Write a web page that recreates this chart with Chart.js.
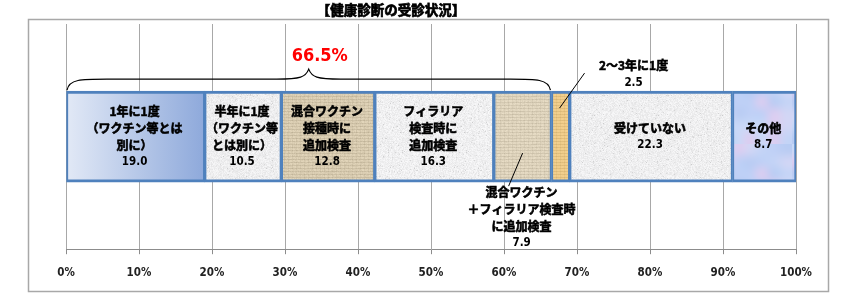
<!DOCTYPE html>
<html>
<head>
<meta charset="utf-8">
<script src="https://cdn.jsdelivr.net/npm/chart.js@4.4.0/dist/chart.umd.min.js"></script>
<style>
  body { margin: 0; background: #fff; }
  #wrap { width: 847px; height: 297px; position: relative; }
</style>
</head>
<body>
<div id="wrap"><canvas id="chart"></canvas></div>
<script>
// === DATA ===
const chartTitle = '【健康診断の受診状況】';
const categories = ['受診状況'];
const seriesNames = [
  '1年に1度（ワクチン等とは別に）',
  '半年に1度（ワクチン等とは別に）',
  '混合ワクチン接種時に追加検査',
  'フィラリア検査時に追加検査',
  '混合ワクチン＋フィラリア検査時に追加検査',
  '2～3年に1度',
  '受けていない',
  'その他'
];
const seriesValues = [19.0, 10.5, 12.8, 16.3, 7.9, 2.5, 22.3, 8.7];
const labelLines = [
  ['1年に1度', '（ワクチン等とは', '別に）'],
  ['半年に1度', '（ワクチン等', 'とは別に）'],
  ['混合ワクチン', '接種時に', '追加検査'],
  ['フィラリア', '検査時に', '追加検査'],
  ['混合ワクチン', '＋フィラリア検査時', 'に追加検査'],
  ['2～3年に1度'],
  ['受けていない'],
  ['その他']
];
const bracketCount = 5;   // 最初の5項目の合計
const tickSuffix = '%';

// === FONTS ===
const JP = '"Noto Sans CJK JP", "Noto Sans", sans-serif';
const NUM = '"Liberation Sans Narrow", "DejaVu Sans Condensed", sans-serif';

// === TEXTURES ===
const cv = document.getElementById('chart');
const mainCtx = cv.getContext('2d');

function makeRng(seed) {
  let s = seed >>> 0;
  return () => { s = (s * 1664525 + 1013904223) >>> 0; return s / 4294967296; };
}

function granite(seed, base) {
  const c = document.createElement('canvas');
  c.width = c.height = 64;
  const g = c.getContext('2d');
  const img = g.createImageData(64, 64);
  const r = makeRng(seed);
  for (let i = 0; i < 64 * 64; i++) {
    let v = base + (r() - 0.5) * 18;
    if (r() < 0.06) v -= 30 * r();
    img.data[i * 4] = v; img.data[i * 4 + 1] = v; img.data[i * 4 + 2] = v + 1;
    img.data[i * 4 + 3] = 255;
  }
  g.putImageData(img, 0, 0);
  return mainCtx.createPattern(c, 'repeat');
}

function burlap(seed, rgb, noise) {
  const c = document.createElement('canvas');
  c.width = c.height = 48;
  const g = c.getContext('2d');
  const img = g.createImageData(48, 48);
  const r = makeRng(seed);
  for (let y = 0; y < 48; y++) {
    for (let x = 0; x < 48; x++) {
      let d = (r() - 0.5) * noise;
      if (y % 3 === 0) d -= 16;
      if (x % 4 === 0) d -= 8;
      const i = (y * 48 + x) * 4;
      img.data[i] = rgb[0] + d; img.data[i + 1] = rgb[1] + d; img.data[i + 2] = rgb[2] + d;
      img.data[i + 3] = 255;
    }
  }
  g.putImageData(img, 0, 0);
  return mainCtx.createPattern(c, 'repeat');
}

function mottle(seed) {
  const s = document.createElement('canvas');
  s.width = s.height = 6;
  const sg = s.getContext('2d');
  const r = makeRng(seed);
  const cols = ['#bfd0f6', '#c9d8f7', '#dccdf0', '#c4d4f6', '#b9ccf3', '#d2d6f5'];
  for (let y = 0; y < 6; y++) for (let x = 0; x < 6; x++) {
    sg.fillStyle = cols[Math.floor(r() * cols.length)];
    sg.fillRect(x, y, 1, 1);
  }
  const c = document.createElement('canvas');
  c.width = c.height = 72;
  const g = c.getContext('2d');
  g.imageSmoothingEnabled = true;
  g.imageSmoothingQuality = 'high';
  g.drawImage(s, 0, 0, 72, 72);
  return mainCtx.createPattern(c, 'repeat');
}

const fills = [
  null, // gradient, built from the scale
  granite(11, 238),
  burlap(23, [220, 207, 180], 14),
  granite(37, 240),
  burlap(41, [226, 215, 192], 12),
  burlap(53, [241, 206, 140], 5),
  granite(67, 239),
  mottle(79)
];

function firstFill(ctx) {
  const c = ctx.chart;
  const x = c.scales && c.scales.x;
  if (!c.chartArea || !x) return '#b8c8ea';
  const g = c.ctx.createLinearGradient(x.getPixelForValue(0), 0, x.getPixelForValue(seriesValues[0]), 0);
  g.addColorStop(0, '#e2e9f6');
  g.addColorStop(1, '#8ea9db');
  return g;
}

// bold-looking Japanese text
function boldText(c, t, x, y) {
  c.fillText(t, x, y);
  c.strokeText(t, x, y);
}

// === PLUGINS ===
const framePlugin = {
  id: 'frame',
  beforeDraw(chart) {
    const c = chart.ctx;
    c.save();
    c.fillStyle = '#fff';
    c.fillRect(0, 0, chart.width, chart.height);
    c.strokeStyle = '#a8a8a8';
    c.lineWidth = 1.5;
    c.strokeRect(28.5, 19.5, 800, 272);
    c.fillStyle = '#000';
    c.strokeStyle = '#000';
    c.lineWidth = 0.7;
    c.font = 'bold 13.5px ' + JP;
    c.textAlign = 'center';
    c.textBaseline = 'middle';
    boldText(c, chartTitle, 391, 10);
    c.restore();
  }
};

function drawLines(c, lines, num, cx, y0, step) {
  c.font = 'bold 12px ' + JP;
  c.strokeStyle = '#000';
  c.lineWidth = 0.6;
  lines.forEach((t, k) => boldText(c, t, cx, y0 + k * step));
  c.font = 'bold 11.5px ' + NUM;
  c.fillText(num, cx, y0 + lines.length * step);
}

const labelPlugin = {
  id: 'segLabels',
  afterDatasetsDraw(chart) {
    const c = chart.ctx;
    const xs = chart.scales.x;
    c.save();
    c.fillStyle = '#000';
    c.textAlign = 'center';
    c.textBaseline = 'middle';
    const step = 17;
    let top = 0, bottom = 0;
    seriesValues.forEach((v, i) => {
      const el = chart.getDatasetMeta(i).data[0];
      const p = el.getProps(['x', 'base', 'y', 'height'], true);
      const cx = (p.x + p.base) / 2;
      top = p.y - p.height / 2;
      bottom = p.y + p.height / 2;
      const num = v.toFixed(1);
      const lines = labelLines[i];
      if (i === 4) {
        // below the bar with leader line
        drawLines(c, lines, num, cx - 1, bottom + 10, step);
        c.strokeStyle = '#000';
        c.lineWidth = 1;
        c.beginPath();
        c.moveTo(cx, bottom - 29);
        c.lineTo(cx - 14, bottom + 4);
        c.stroke();
      } else if (i === 5) {
        // above the bar with leader line
        drawLines(c, lines, num, cx + 73, top - 26, 18);
        c.strokeStyle = '#000';
        c.lineWidth = 1;
        c.beginPath();
        c.moveTo(cx - 1, top + 17);
        c.lineTo(cx + 24, top - 18);
        c.stroke();
      } else {
        const n = lines.length + 1;
        drawLines(c, lines, num, cx - 1, p.y - (n - 1) * step / 2, step);
      }
    });

    // brace over the first five segments
    const sum = seriesValues.slice(0, bracketCount).reduce((a, b) => a + b, 0);
    const x0 = xs.getPixelForValue(0) + 1;
    const x1 = xs.getPixelForValue(sum) - 1;
    const mid = (x0 + x1) / 2;
    const yb = top - 1, yh = top - 12, yp = top - 22;
    c.strokeStyle = '#000';
    c.lineWidth = 1.2;
    c.beginPath();
    c.moveTo(x0, yb);
    c.bezierCurveTo(x0 + 2, yh, x0 + 14, yh, x0 + 40, yh);
    c.lineTo(mid - 32, yh);
    c.bezierCurveTo(mid - 8, yh, mid - 3, yh - 2, mid, yp);
    c.bezierCurveTo(mid + 3, yh - 2, mid + 8, yh, mid + 32, yh);
    c.lineTo(x1 - 40, yh);
    c.bezierCurveTo(x1 - 14, yh, x1 - 2, yh, x1, yb);
    c.stroke();
    c.fillStyle = '#ff0000';
    c.font = 'bold 18px "DejaVu Sans Condensed", sans-serif';
    c.fillText(sum.toFixed(1) + '%', mid + 11, top - 35);
    c.restore();
  }
};

// === CHART ===
new Chart(mainCtx, {
  type: 'bar',
  data: {
    labels: categories,
    datasets: seriesValues.map((v, i) => ({
      label: seriesNames[i],
      data: [v],
      backgroundColor: i === 0 ? firstFill : fills[i],
      borderColor: '#4f81bd',
      borderWidth: { top: 3, bottom: 3, left: 2, right: 2 },
      borderSkipped: false,
      barThickness: 91
    }))
  },
  options: {
    indexAxis: 'y',
    responsive: true,
    maintainAspectRatio: false,
    animation: false,
    events: [],
    layout: { padding: { left: 66, right: 51, top: 24, bottom: 5 } },
    plugins: { legend: { display: false }, tooltip: { enabled: false }, title: { display: false } },
    scales: {
      x: {
        stacked: true,
        min: 0, max: 100,
        ticks: {
          stepSize: 10,
          padding: 12,
          color: '#222',
          font: { family: NUM, size: 11.5, weight: 'bold' },
          callback: v => v + tickSuffix
        },
        grid: {
          color: '#a8a8a8',
          borderDash: [2, 1],
          tickLength: 5,
          tickBorderDash: [],
          tickColor: '#8c8c8c'
        },
        border: { display: true, color: '#8c8c8c', width: 1 }
      },
      y: { stacked: true, display: false }
    }
  },
  plugins: [framePlugin, labelPlugin]
});
</script>
</body>
</html>
